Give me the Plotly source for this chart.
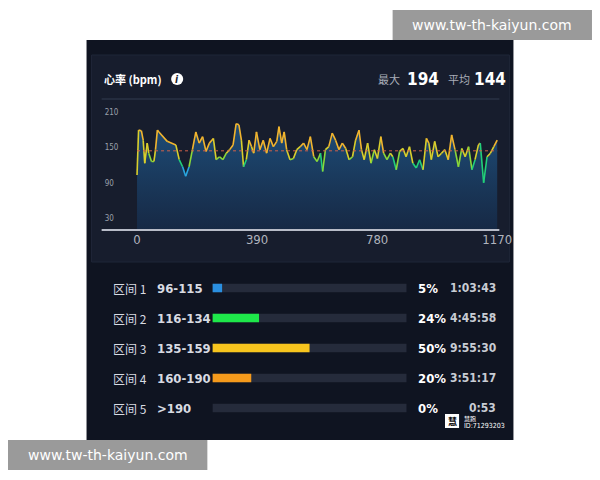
import plotly.graph_objects as go

# ---- data ----
time_x = [0,5,14,20,25,33,38,47,55,60,66,71,98,126,137,148,158,169,180,191,
          202,213,224,235,248,257,268,279,290,301,312,322,331,339,346,355,364,372,379,388,
          399,410,421,432,443,454,461,470,478,486,497,508,519,530,541,552,563,574,585,596,
          603,612,623,634,645,656,667,678,689,700,710,721,729,738,749,760,771,781,792,801,
          812,823,831,842,853,864,874,885,896,907,918,929,940,948,956,967,978,989,1000,1011,
          1022,1033,1044,1055,1066,1077,1088,1098,1109,1115,1126,1137,1148,1159,1170]
hr = [103,179,178,162,123,157,140,126,126,146,179,176,160,154,129,117,101,117,146,176,
      157,168,143,157,165,129,134,129,140,146,154,190,188,162,117,129,162,151,140,176,
      146,162,140,165,151,160,185,157,176,146,129,131,146,151,157,146,168,134,126,140,
      109,146,151,174,162,146,157,148,129,134,162,179,146,129,157,123,146,131,168,140,
      129,140,134,112,143,148,134,151,123,115,129,112,165,157,129,160,134,140,146,129,
      171,146,117,148,134,151,112,129,154,157,90,134,140,151,162]
avg_hr = 144
max_hr = 194
x_ticks = [0, 390, 780, 1170]
y_ticks = [30, 90, 150, 210]

zones = ["区间 1", "区间 2", "区间 3", "区间 4", "区间 5"]
zone_ranges = ["96-115", "116-134", "135-159", "160-190", ">190"]
zone_pct = [5, 24, 50, 20, 0]
zone_time = ["1:03:43", "4:45:58", "9:55:30", "3:51:17", "0:53"]
zone_colors = ["#2a8fe0", "#1ee84a", "#f7c51e", "#f59a1c", "#f05a3c"]

FONT = "DejaVu Sans Condensed, Noto Sans CJK SC, sans-serif"
CJK = "Noto Sans CJK SC, sans-serif"
OFF = 10
W, H = 600, 480
WR = 583

def px(x): return (x - OFF) / WR
def py(y): return 1 - (y - 8) / H

def hr_color(v):
    if v < 110: return "#2aa6e0"
    if v < 125: return "#22d07a"
    if v < 135: return "#8ad83a"
    if v < 150: return "#d9cf2c"
    return "#f2b52e"

fig = go.Figure()

fig.add_trace(go.Scatter(x=time_x, y=hr, mode="lines", line=dict(width=0),
                         fill="tozeroy",
                         fillgradient=dict(type="vertical",
                                           colorscale=[[0, "rgba(22,42,72,0.8)"], [1, "rgba(30,80,125,0.95)"]]),
                         hoverinfo="skip", showlegend=False))
for i in range(len(hr) - 1):
    fig.add_trace(go.Scatter(x=time_x[i:i+2], y=hr[i:i+2], mode="lines",
                             line=dict(color=hr_color((hr[i] + hr[i+1]) / 2), width=1.6),
                             hoverinfo="skip", showlegend=False))
fig.add_trace(go.Scatter(x=[time_x[0], time_x[-1]], y=[avg_hr, avg_hr], mode="lines",
                         line=dict(color="#d0604a", width=1, dash="dot"),
                         showlegend=False, hoverinfo="skip"))

fig.add_trace(go.Bar(y=zones, x=[100]*5, orientation="h", xaxis="x2", yaxis="y2",
                     marker=dict(color="#252b3b", line=dict(width=0)), width=0.28,
                     showlegend=False, hoverinfo="skip"))
fig.add_trace(go.Bar(y=zones, x=zone_pct, orientation="h", xaxis="x2", yaxis="y2",
                     marker=dict(color=zone_colors, line=dict(width=0)), width=0.28,
                     showlegend=False, hoverinfo="skip"))

shapes = [
    dict(type="rect", xref="paper", yref="paper", x0=px(88), x1=px(512), y0=py(440), y1=py(40),
         fillcolor="#0f1421", line=dict(width=0), layer="below"),
    dict(type="rect", xref="paper", yref="paper", x0=px(93), x1=px(508), y0=py(262), y1=py(55),
         fillcolor="#171d2d", line=dict(color="#1f2638", width=1), layer="below"),
    dict(type="line", xref="paper", yref="paper", x0=px(103), x1=px(498), y0=py(99), y1=py(99),
         line=dict(color="#333c50", width=1)),
    dict(type="line", xref="paper", yref="paper", x0=px(103), x1=px(498), y0=py(230), y1=py(230),
         line=dict(color="#b8bcc8", width=2)),
    dict(type="circle", xref="paper", yref="paper", x0=px(172), x1=px(184), y0=py(85), y1=py(73),
         fillcolor="white", line=dict(width=0)),
    dict(type="rect", xref="paper", yref="paper", x0=px(392), x1=px(590), y0=py(40), y1=py(10),
         fillcolor="#9a9a9a", line=dict(width=0)),
    dict(type="rect", xref="paper", yref="paper", x0=px(10), x1=px(208), y0=py(470), y1=py(440),
         fillcolor="#9a9a9a", line=dict(width=0)),
    dict(type="rect", xref="paper", yref="paper", x0=px(444), x1=px(458), y0=py(428), y1=py(414),
         fillcolor="white", line=dict(width=0)),
]

ann = []
def A(x, y, t, size=12, color="white", xanchor="left", family=FONT, bold=False):
    if bold: t = "<b>" + t + "</b>"
    ann.append(dict(x=px(x), y=py(y), xref="paper", yref="paper", text=t, showarrow=False,
                    xanchor=xanchor, yanchor="middle", font=dict(size=size, color=color, family=family)))

A(103, 79, "心率 (bpm)", 11, "white", family=CJK, bold=True)
A(178, 79, "<i>i</i>", 10, "#161c2c", "center", bold=True)
A(375, 79, "最大", 11, "#a8adb8", family=CJK)
A(404, 79, str(max_hr), 17, "white", bold=True)
A(445, 79, "平均", 11, "#a8adb8", family=CJK)
A(471, 79, str(avg_hr), 17, "white", bold=True)

for i, z in enumerate(zones):
    yy = 288 + 30 * i
    A(112, yy, z, 12, "#d8dbe2", family=CJK)
    A(156, yy, zone_ranges[i], 13, "#d8dbe2", bold=True)
    A(415, yy, f"{zone_pct[i]}%", 13, "white", bold=True)
    A(497, yy, zone_time[i], 12, "#c8ccd4", "right", bold=True)

A(451, 421, "<b>慧</b>", 9, "#111", "center", family=CJK)
A(461, 418, "慧跑", 6, "white", family=CJK)
A(461, 426, "ID:71293203", 7, "white", family=FONT)
A(491, 25, "www.tw-th-kaiyun.com", 14, "white", "center", family="DejaVu Sans")
A(109, 455, "www.tw-th-kaiyun.com", 14, "white", "center", family="DejaVu Sans")

fig.update_layout(
    width=W, height=H, margin=dict(l=0, r=0, t=0, b=0),
    paper_bgcolor="white", plot_bgcolor="rgba(0,0,0,0)",
    barmode="overlay", shapes=shapes, annotations=ann,
    xaxis=dict(domain=[px(103), px(498)], range=[-115, 1177], tickvals=x_ticks,
               showgrid=False, zeroline=False, showline=False,
               tickfont=dict(size=13, color="#b0b4be", family=FONT), ticks="", ticklen=0),
    yaxis=dict(domain=[py(230), py(100)], range=[10, 230], tickvals=y_ticks,
               showgrid=False, zeroline=False, ticklabelposition="inside",
               tickfont=dict(size=8, color="#9ba0ab", family=FONT)),
    xaxis2=dict(domain=[px(213), px(406)], range=[0, 100], visible=False, anchor="y2"),
    yaxis2=dict(domain=[py(423), py(273)], autorange="reversed", visible=False, anchor="x2"),
)
fig.write_html("out.html")
